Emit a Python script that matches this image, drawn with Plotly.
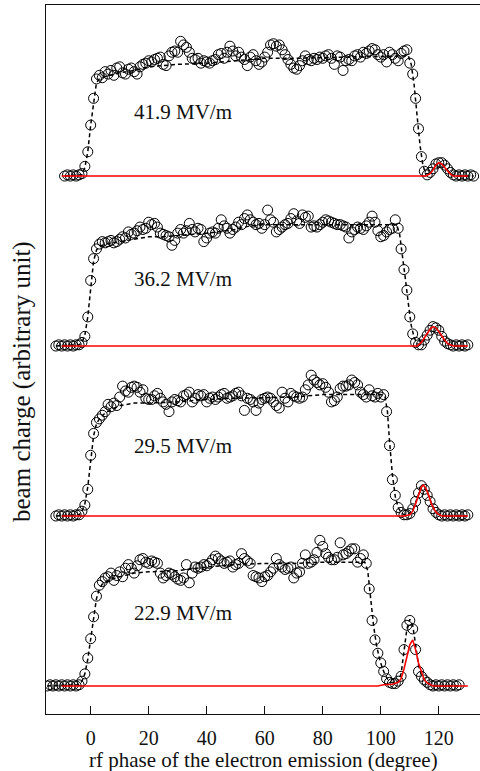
import numpy as np
import plotly.graph_objects as go

# ---------------- data ----------------
FIELDS = ["41.9 MV/m", "36.2 MV/m", "29.5 MV/m", "22.9 MV/m"]
OFFSETS = [4.2, 2.8, 1.4, 0.0]          # vertical stacking of the four scans
LABEL_Y = [0.53, 0.55, 0.58, 0.60]      # label height above each baseline
LABEL_X = 14.2
X_START = [-9, -12, -12, -15]           # first phase of each scan (1 degree steps)

Q_419 = [0.00, 0.01, 0.00, 0.01, 0.00, 0.01, 0.02, 0.08, 0.20, 0.42,
         0.64, 0.80, 0.83, 0.81, 0.86, 0.84, 0.87, 0.83, 0.89, 0.90,
         0.85, 0.84, 0.88, 0.89, 0.86, 0.84, 0.90, 0.92, 0.93, 0.95,
         0.94, 0.96, 0.97, 0.98, 0.92, 0.91, 0.99, 1.02, 1.03, 1.02,
         1.11, 1.08, 1.06, 1.02, 0.97, 0.96, 0.97, 0.93, 0.95, 0.94,
         0.93, 0.95, 0.96, 1.00, 1.01, 0.97, 1.02, 1.07, 1.03, 0.99,
         1.02, 0.98, 0.96, 0.91, 0.98, 1.00, 0.95, 0.92, 0.94, 0.98,
         1.02, 1.08, 1.09, 1.07, 1.08, 1.04, 1.00, 0.96, 0.92, 0.89,
         0.88, 0.91, 0.95, 0.99, 0.96, 0.95, 0.97, 0.96, 0.98, 0.97,
         0.99, 1.00, 0.97, 0.92, 0.99, 0.98, 0.87, 0.95, 0.96, 0.95,
         0.99, 1.00, 0.98, 1.02, 1.01, 1.03, 1.05, 1.04, 1.00, 0.98,
         1.00, 0.94, 1.02, 1.00, 0.97, 0.95, 1.01, 1.03, 1.04, 0.93,
         0.84, 0.64, 0.39, 0.16, 0.04, 0.01, 0.03, 0.06, 0.10, 0.11,
         0.11, 0.09, 0.06, 0.03, 0.01, 0.00, 0.01, 0.00, 0.01, 0.00,
         0.01, 0.00]

Q_362 = [0.00, 0.01, 0.00, 0.01, 0.00, 0.01, 0.00, 0.01, 0.01, 0.03,
         0.08, 0.24, 0.54, 0.72, 0.80, 0.84, 0.86, 0.85, 0.86, 0.87,
         0.85, 0.86, 0.88, 0.90, 0.89, 0.94, 0.92, 0.93, 0.95, 0.98,
         0.96, 0.97, 1.02, 1.00, 1.01, 0.98, 0.93, 0.92, 0.91, 0.90,
         0.83, 0.87, 0.93, 0.96, 0.93, 0.95, 1.01, 0.96, 0.94, 0.97,
         0.96, 0.86, 0.89, 0.93, 0.94, 0.93, 0.97, 1.04, 0.99, 0.97,
         0.93, 0.96, 0.98, 1.02, 1.00, 1.05, 1.08, 1.04, 1.02, 1.00,
         1.01, 0.97, 1.00, 1.12, 1.04, 1.02, 0.94, 0.96, 0.98, 1.00,
         1.01, 1.05, 1.09, 1.03, 1.01, 1.08, 1.06, 1.07, 0.98, 0.99,
         0.98, 1.00, 1.02, 1.04, 1.03, 1.02, 1.01, 1.00, 1.00, 0.99,
         0.98, 0.89, 0.94, 0.96, 0.98, 0.97, 0.96, 0.99, 1.02, 1.07,
         1.02, 0.95, 0.90, 0.91, 0.94, 0.96, 0.97, 1.04, 0.97, 0.80,
         0.63, 0.46, 0.24, 0.10, 0.03, 0.01, 0.01, 0.05, 0.09, 0.13,
         0.16, 0.15, 0.13, 0.08, 0.04, 0.02, 0.01, 0.00, 0.01, 0.00,
         0.01, 0.00, 0.01]

Q_295 = [0.00, 0.01, 0.00, 0.01, 0.00, 0.01, 0.00, 0.01, 0.01, 0.04,
         0.09, 0.22, 0.50, 0.68, 0.77, 0.80, 0.83, 0.86, 0.92, 0.90,
         0.93, 0.91, 0.98, 1.07, 1.03, 1.02, 1.06, 1.07, 1.06, 1.02,
         1.04, 0.97, 0.96, 0.96, 0.99, 1.01, 0.97, 0.94, 0.92, 0.86,
         0.94, 0.96, 0.95, 0.94, 0.99, 1.00, 1.02, 0.94, 0.97, 1.00,
         0.99, 1.00, 0.94, 0.97, 0.98, 0.96, 0.98, 1.00, 1.01, 0.97,
         0.98, 0.99, 1.01, 1.02, 0.99, 0.87, 0.97, 0.96, 0.94, 0.87,
         0.93, 0.96, 0.97, 0.98, 0.97, 0.94, 0.91, 0.89, 1.02, 0.97,
         0.94, 1.01, 0.99, 0.98, 0.97, 0.98, 1.04, 1.08, 1.16, 1.12,
         1.10, 1.08, 1.09, 1.06, 1.02, 0.94, 0.95, 0.98, 1.05, 1.07,
         1.07, 1.08, 1.12, 1.10, 1.08, 1.02, 1.00, 0.98, 1.04, 0.99,
         0.98, 1.01, 0.98, 1.00, 0.86, 0.58, 0.30, 0.17, 0.07, 0.03,
         0.01, 0.01, 0.02, 0.06, 0.12, 0.19, 0.25, 0.22, 0.17, 0.12,
         0.06, 0.03, 0.01, 0.00, 0.01, 0.00, 0.01, 0.00, 0.01, 0.00,
         0.01, 0.00, 0.01]

Q_229 = [0.00, 0.01, 0.00, 0.01, 0.00, 0.01, 0.00, 0.01, 0.00, 0.01,
         0.00, 0.01, 0.04, 0.10, 0.23, 0.39, 0.57, 0.74, 0.83, 0.86,
         0.89, 0.90, 0.93, 0.87, 0.91, 0.94, 0.90, 0.97, 1.00, 0.97,
         0.93, 0.99, 1.04, 1.05, 1.02, 1.01, 1.03, 1.02, 1.01, 0.93,
         0.89, 0.91, 0.93, 0.92, 0.90, 0.88, 0.87, 0.89, 1.00, 0.85,
         0.93, 0.98, 0.97, 0.98, 1.00, 0.99, 1.01, 1.04, 1.07, 1.05,
         1.03, 1.01, 1.02, 1.03, 0.98, 1.00, 1.01, 1.09, 1.05, 1.03,
         1.01, 0.91, 0.90, 0.89, 0.86, 0.90, 0.91, 0.94, 0.97, 1.05,
         1.00, 0.98, 0.96, 0.97, 0.98, 0.89, 0.93, 0.94, 1.01, 1.08,
         1.01, 1.02, 1.04, 1.10, 1.20, 1.15, 1.09, 1.06, 1.04, 1.04,
         1.06, 1.18, 1.08, 1.09, 1.11, 1.13, 1.13, 1.02, 1.05, 1.08,
         1.01, 0.80, 0.54, 0.38, 0.27, 0.19, 0.12, 0.06, 0.03, 0.02,
         0.02, 0.04, 0.08, 0.30, 0.50, 0.54, 0.47, 0.30, 0.12, 0.08,
         0.05, 0.03, 0.01, 0.00, 0.01, 0.00, 0.01, 0.00, 0.01, 0.00,
         0.01, 0.00, 0.01]

# dashed fit curves (phase, charge)
FIT_X_419 = [-9, -3, -2, -1, 0, 1, 2, 3, 5, 10, 15, 20, 25, 30, 40, 50, 60, 70, 80, 90, 100,
             109.5, 110.5, 111.5, 112.5, 113.5, 114.5, 115.5, 116.5, 118, 119, 120, 121, 122,
             123, 124, 125, 126, 132]
FIT_Y_419 = [0, 0.01, 0.07, 0.2, 0.42, 0.62, 0.77, 0.8, 0.82, 0.85, 0.87, 0.9, 0.91, 0.92,
             0.93, 0.95, 0.97, 0.97, 0.975, 0.98, 0.99, 0.99, 0.92, 0.75, 0.5, 0.26, 0.09,
             0.02, 0.02, 0.06, 0.09, 0.11, 0.1, 0.08, 0.05, 0.02, 0.01, 0, 0]
FIT_X_362 = [-12, -4, -3, -2, -1, 0, 1, 2, 3, 5, 10, 15, 20, 25, 30, 40, 50, 55, 60, 70, 80, 90,
             100, 105.5, 106.5, 107.5, 108.5, 109.5, 110.5, 111.5, 112.5, 113.5, 115, 116, 117,
             118, 119, 120, 121, 122, 123, 124, 125, 130]
FIT_Y_362 = [0, 0.01, 0.03, 0.09, 0.24, 0.5, 0.7, 0.79, 0.82, 0.84, 0.86, 0.88, 0.9, 0.9,
             0.91, 0.93, 0.96, 0.99, 1.0, 1.0, 1.0, 1.0, 1.0, 1.0, 0.92, 0.75, 0.55, 0.35,
             0.17, 0.07, 0.02, 0.01, 0.05, 0.1, 0.14, 0.16, 0.15, 0.12, 0.08, 0.04, 0.02,
             0.01, 0, 0]
FIT_X_295 = [-12, -4, -3, -2, -1, 0, 1, 2, 3, 5, 8, 10, 15, 20, 30, 40, 50, 60, 70, 80, 90,
             100, 101.5, 102.3, 103, 104, 105, 106, 107, 108, 109, 110, 111, 112, 113, 114,
             114.7, 115.5, 116.5, 117.5, 118.5, 119.5, 121, 130]
FIT_Y_295 = [0, 0.01, 0.04, 0.1, 0.24, 0.48, 0.66, 0.76, 0.8, 0.85, 0.89, 0.91, 0.93, 0.93,
             0.94, 0.96, 0.97, 0.975, 0.98, 1.0, 1.0, 1.0, 0.98, 0.86, 0.62, 0.34, 0.16,
             0.07, 0.03, 0.01, 0.01, 0.02, 0.05, 0.11, 0.18, 0.24, 0.25, 0.22, 0.17, 0.1,
             0.05, 0.02, 0, 0]
FIT_X_229 = [-15, -4, -3, -2, -1, 0, 1, 2, 3, 4, 6, 10, 15, 20, 30, 40, 50, 60, 70, 80, 90,
             94.5, 95.5, 96.5, 97.5, 98.5, 99.5, 100.5, 101.5, 102.5, 103.5, 105, 106, 107,
             108, 109, 110, 111, 112, 113, 114, 115, 116, 117, 118, 127]
FIT_Y_229 = [0, 0.01, 0.04, 0.1, 0.22, 0.38, 0.56, 0.72, 0.8, 0.84, 0.87, 0.9, 0.93, 0.94,
             0.95, 0.98, 1.0, 1.01, 1.01, 1.02, 1.02, 1.02, 0.95, 0.72, 0.5, 0.34, 0.23,
             0.15, 0.09, 0.05, 0.03, 0.02, 0.04, 0.1, 0.28, 0.47, 0.55, 0.5, 0.34, 0.17,
             0.09, 0.05, 0.03, 0.01, 0, 0]

# red curves (secondary emission peak)
PEAK_X_419 = [-10, 115.5, 117, 118, 119, 120, 121, 122, 123, 124, 125, 130]
PEAK_Y_419 = [0, 0, 0.02, 0.05, 0.09, 0.11, 0.1, 0.07, 0.04, 0.015, 0, 0]
PEAK_X_362 = [-10, 112.5, 114, 115.5, 117, 118, 119, 120, 121, 122, 123, 124, 125, 130]
PEAK_Y_362 = [0, 0, 0.03, 0.09, 0.14, 0.16, 0.15, 0.12, 0.08, 0.05, 0.02, 0.01, 0, 0]
PEAK_X_295 = [-10, 108, 110, 111, 112, 113, 114, 114.7, 115.5, 116.5, 117.5, 118.5, 119.5,
              121, 130]
PEAK_Y_295 = [0, 0, 0.01, 0.04, 0.1, 0.17, 0.24, 0.255, 0.23, 0.17, 0.1, 0.05, 0.02, 0, 0]
PEAK_X_229 = [-10, 99, 101, 104, 106, 107, 108, 109, 110, 111, 112, 113, 114, 115, 116,
              117, 118, 130]
PEAK_Y_229 = [0, 0, 0.01, 0.015, 0.03, 0.06, 0.14, 0.25, 0.34, 0.38, 0.3, 0.19, 0.11,
              0.05, 0.025, 0.01, 0, 0]

X_TICKS = [0, 20, 40, 60, 80, 100, 120]
X_RANGE = [-15.4, 134.2]
Y_RANGE = [-0.2306, 5.609]

SCANS = [Q_419, Q_362, Q_295, Q_229]
FITS = [(FIT_X_419, FIT_Y_419), (FIT_X_362, FIT_Y_362),
        (FIT_X_295, FIT_Y_295), (FIT_X_229, FIT_Y_229)]
PEAKS = [(PEAK_X_419, PEAK_Y_419), (PEAK_X_362, PEAK_Y_362),
         (PEAK_X_295, PEAK_Y_295), (PEAK_X_229, PEAK_Y_229)]

FONT = "Liberation Serif, Times New Roman, serif"

fig = go.Figure()
for i in range(4):
    off = OFFSETS[i]
    q = np.array(SCANS[i])
    x = X_START[i] + np.arange(len(q))
    fig.add_trace(go.Scatter(
        x=x, y=q + off, mode="markers",
        marker=dict(symbol="circle-open", size=10, color="black",
                    line=dict(width=1, color="black")),
        showlegend=False, hoverinfo="skip"))
    fx, fy = FITS[i]
    fig.add_trace(go.Scatter(
        x=fx, y=np.array(fy) + off, mode="lines",
        line=dict(color="black", width=1.5, dash="4px,3px"),
        showlegend=False, hoverinfo="skip"))
    px, py = PEAKS[i]
    fig.add_trace(go.Scatter(
        x=px, y=np.array(py) + off, mode="lines",
        line=dict(color="#ff0000", width=1.6),
        showlegend=False, hoverinfo="skip"))
    fig.add_annotation(x=LABEL_X, y=off + LABEL_Y[i], text=FIELDS[i],
                       xref="x", yref="y", xanchor="left", yanchor="middle",
                       showarrow=False, font=dict(family=FONT, size=21, color="#111"))

fig.add_annotation(x=0.5, y=-0.0649, xref="paper", yref="paper",
                   text="rf phase of the electron emission (degree)",
                   xanchor="center", yanchor="middle", showarrow=False,
                   font=dict(family=FONT, size=21, color="#111"))
fig.add_annotation(x=-0.0553, y=0.4697, xref="paper", yref="paper",
                   text="beam charge (arbitrary unit)", textangle=-90,
                   xanchor="center", yanchor="middle", showarrow=False,
                   font=dict(family=FONT, size=25, color="#111"))

fig.update_layout(
    width=480, height=771,
    margin=dict(l=46, r=0, t=5, b=57),
    paper_bgcolor="white", plot_bgcolor="white",
    xaxis=dict(range=X_RANGE, tickvals=X_TICKS, ticks="inside", ticklen=8,
               tickwidth=1.2, tickcolor="#111", showline=True, linecolor="#111",
               linewidth=1.3, mirror=True, showgrid=False, zeroline=False,
               ticklabelstandoff=6,
               tickfont=dict(family=FONT, size=20, color="#111")),
    yaxis=dict(range=Y_RANGE, showline=True, linecolor="#111", linewidth=1.3,
               showticklabels=False, ticks="", showgrid=False, zeroline=False),
)

fig.write_html("out.html")
